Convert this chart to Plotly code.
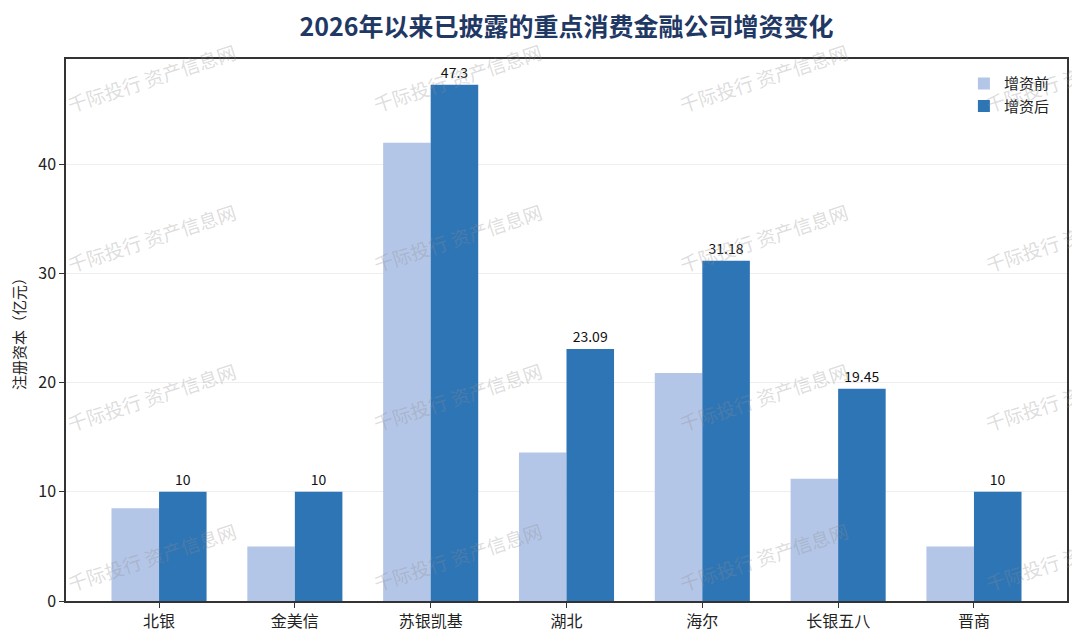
import plotly.graph_objects as go

# data
companies = ['北银', '金美信', '苏银凯基', '湖北', '海尔', '长银五八', '晋商']
before = [8.5, 5, 42, 13.6, 20.9, 11.2, 5]
after = [10, 10, 47.3, 23.09, 31.18, 19.45, 10]
after_labels = ['10', '10', '47.3', '23.09', '31.18', '19.45', '10']

FONT = 'Noto Sans CJK SC'
light = '#b4c6e7'
dark = '#2e75b6'

# page body has an 8px margin, so the figure is 16px smaller than the window
OFF = 8
W, H = 1080 - 2 * OFF, 643 - 2 * OFF
ml, mr, mt, mb = 66 - OFF, 1072 - 1069, 59 - OFF, 635 - 603

fig = go.Figure()
fig.add_trace(go.Bar(x=companies, y=before, name='增资前', marker_color=light,
                     marker_line_width=0, hoverinfo='y'))
fig.add_trace(go.Bar(x=companies, y=after, name='增资后', marker_color=dark,
                     marker_line_width=0, text=after_labels, textposition='outside',
                     textfont=dict(size=14, color='#111111', family=FONT),
                     cliponaxis=False, hoverinfo='y'))

# watermark, placed by pixel position in the window
def px_to_paper(px, py):
    return (px - OFF - ml) / (W - ml - mr), (H - mb - (py - OFF)) / (H - mt - mb)

wm_x = [152, 458, 765, 1072]
wm_y = [78, 238, 398, 558]
for py in wm_y:
    for px in wm_x:
        ax, ay = px_to_paper(px, py)
        fig.add_annotation(text='千际投行 资产信息网', x=ax, y=ay, xref='paper', yref='paper',
                           xanchor='center', yanchor='middle',
                           showarrow=False, textangle=-18,
                           font=dict(size=19, color='rgba(140,140,140,0.3)', family=FONT))

fig.update_layout(
    width=W, height=H,
    margin=dict(l=ml, r=mr, t=mt, b=mb),
    paper_bgcolor='white', plot_bgcolor='white',
    barmode='group', bargap=0.3, bargroupgap=0,
    font=dict(family=FONT, size=15, color='#222222'),
    title=dict(text='<b>2026年以来已披露的重点消费金融公司增资变化</b>',
               xref='paper', x=0.5, xanchor='center', y=1 - (27 - OFF) / H, yanchor='middle',
               font=dict(size=25, color='#1f3864', family=FONT)),
    legend=dict(x=0.897, y=0.985, xanchor='left', yanchor='top',
                bgcolor='rgba(255,255,255,0)', itemwidth=30,
                font=dict(size=15, color='#222222'), tracegroupgap=2),
    showlegend=True,
)
fig.update_xaxes(range=[-0.685, 6.685], showline=True, linecolor='#333333', linewidth=1.5,
                 mirror=True, ticks='outside', ticklen=5, tickcolor='#333333',
                 showgrid=False, tickfont=dict(size=16, color='#222222'))
fig.update_yaxes(range=[0, 49.665], dtick=10, showline=True, linecolor='#333333', linewidth=1.5,
                 mirror=True, ticks='outside', ticklen=5, tickcolor='#333333',
                 showgrid=True, gridcolor='#eeeeee', gridwidth=1, zeroline=False,
                 tickfont=dict(size=16, color='#222222'),
                 title=dict(text='注册资本（亿元）', font=dict(size=15, color='#222222'), standoff=12))

fig.write_html("out.html")
